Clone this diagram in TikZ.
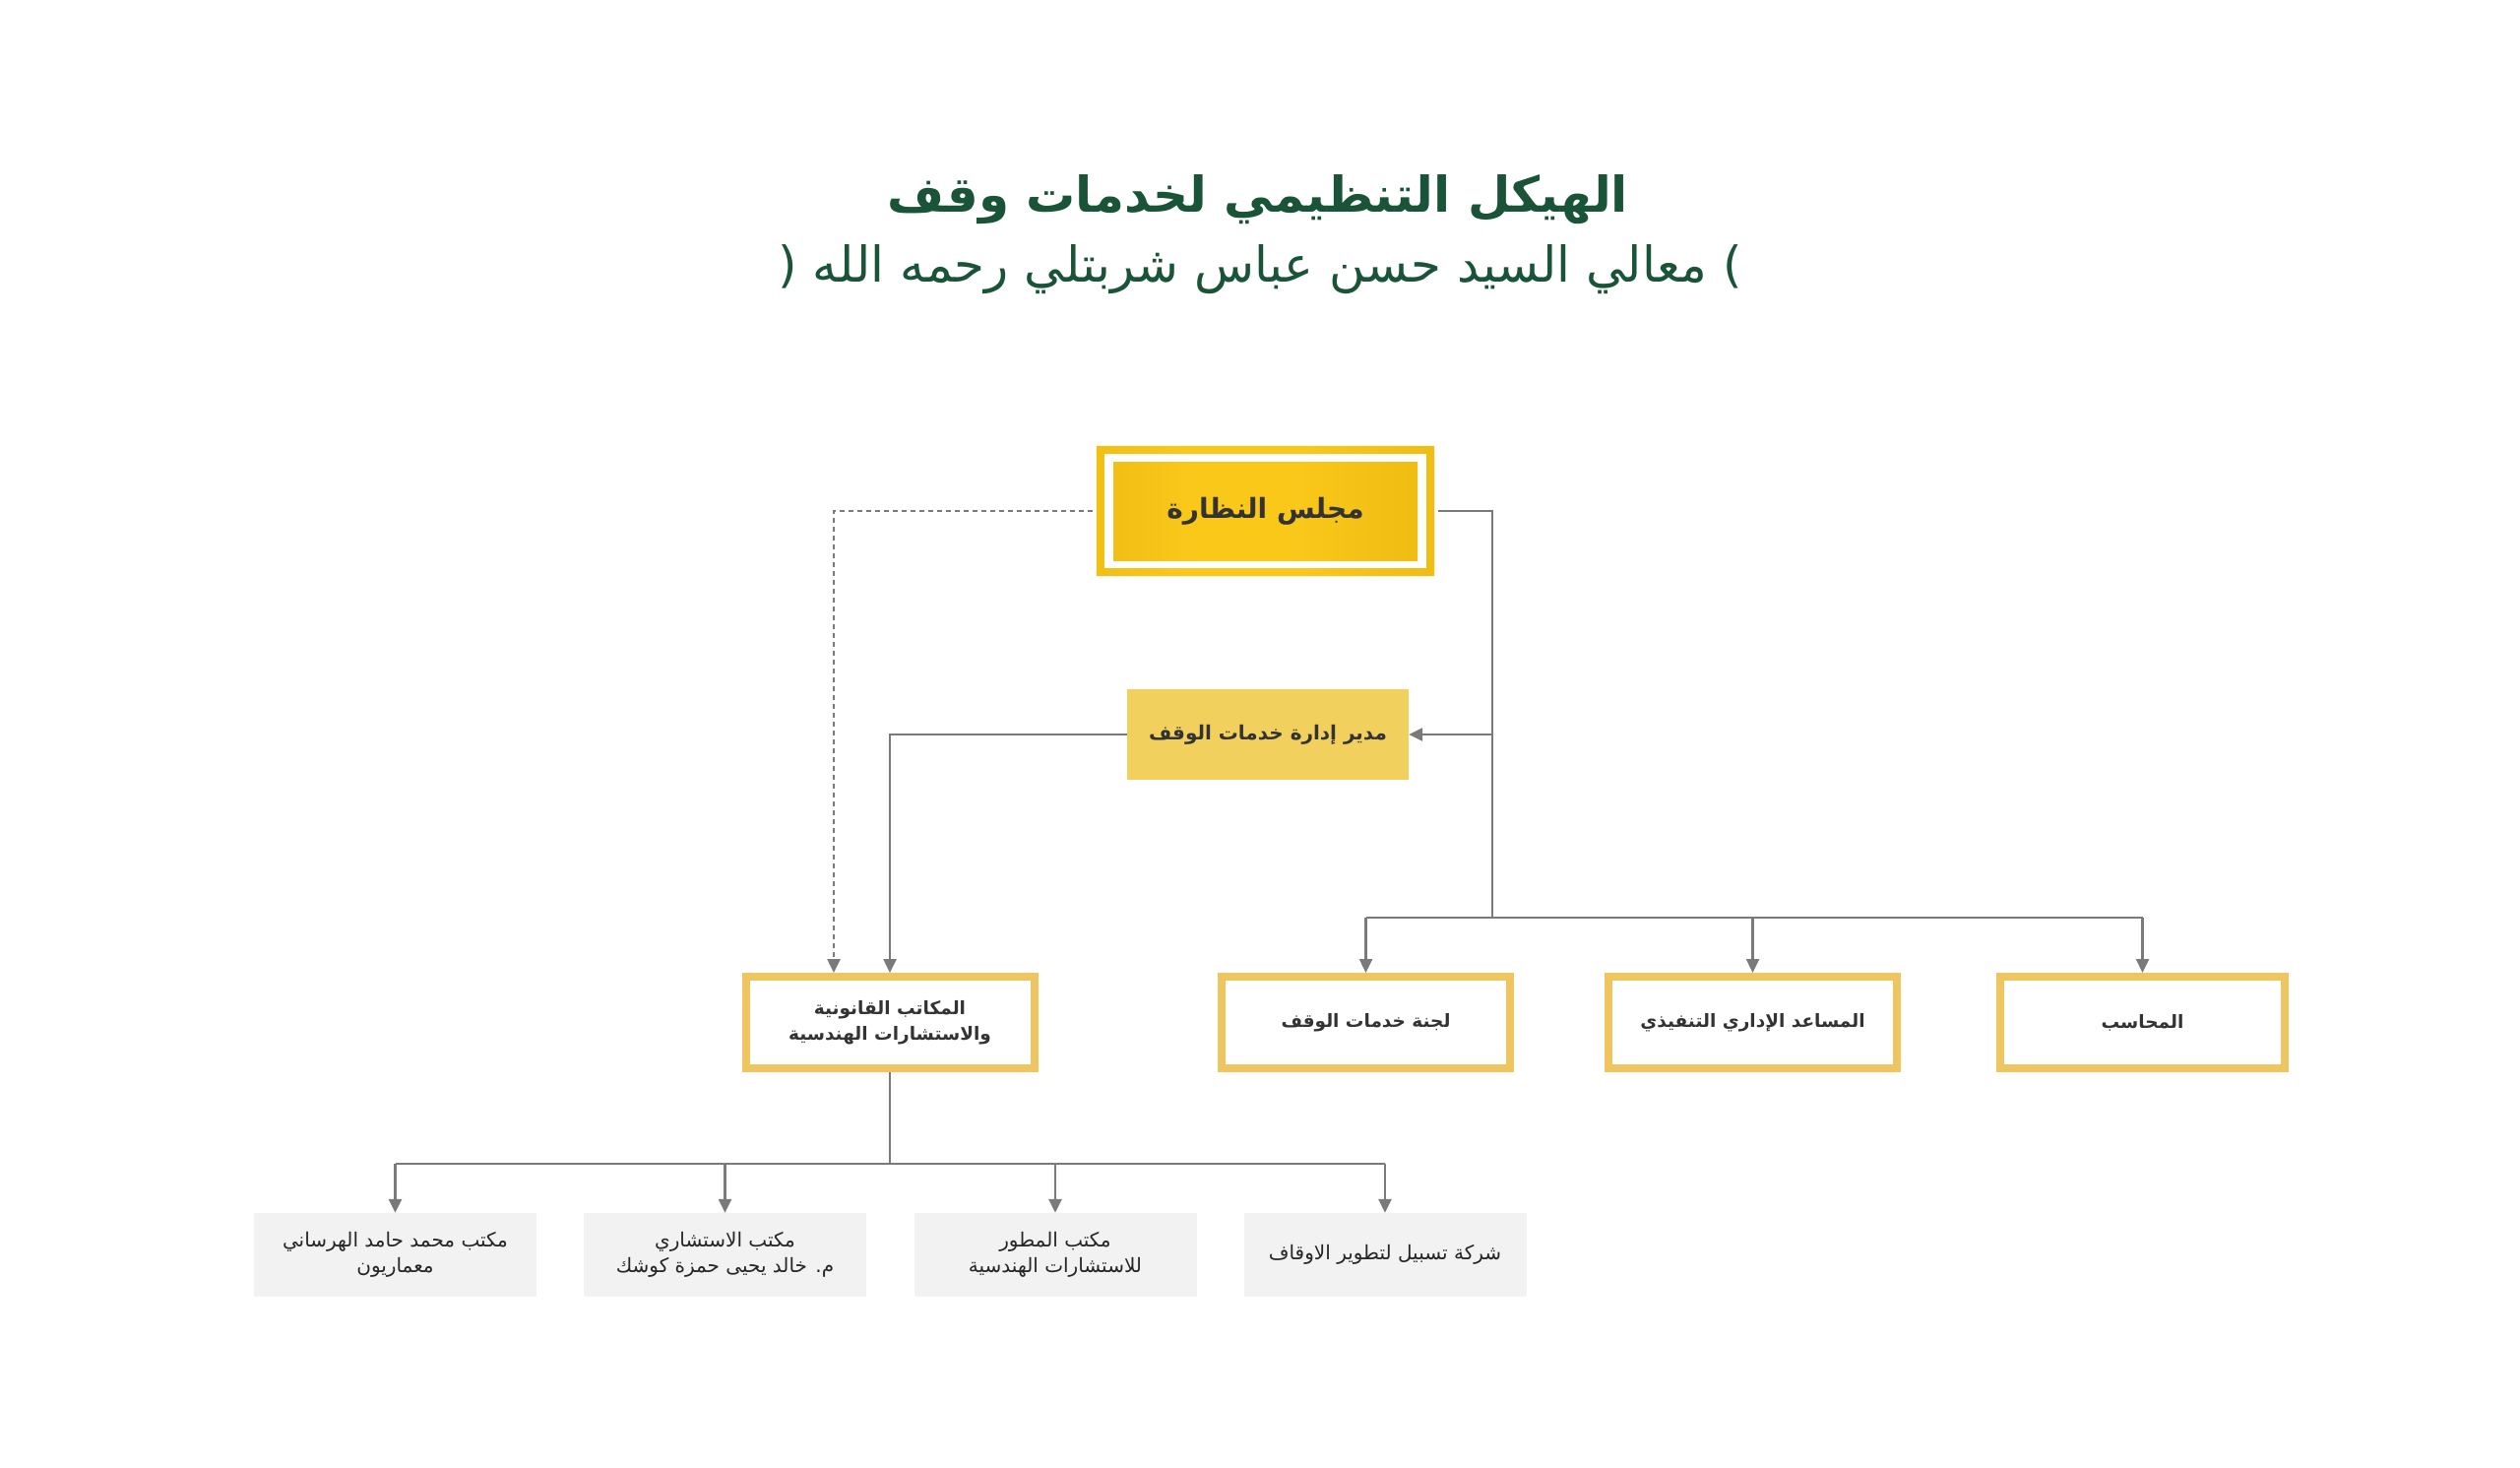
\documentclass[tikz,border=0pt]{standalone}
\usepackage{fontspec}
\setmainfont{DejaVu Sans}
\newfontfamily\ar[Script=Arabic]{DejaVu Sans}
\TeXXeTstate=1
\usetikzlibrary{arrows.meta}
\definecolor{titlegreen}{HTML}{1A5438}
\definecolor{goldA}{HTML}{E4AE0C}
\definecolor{goldB}{HTML}{F9C819}
\definecolor{mgrfill}{HTML}{F2D05E}
\definecolor{midgold}{HTML}{EFC55F}
\definecolor{lightbox}{HTML}{F2F2F3}
\definecolor{conngray}{HTML}{7A7A7A}
\definecolor{textdark}{HTML}{333333}
\pgfdeclarehorizontalshading{goldshade}{100bp}{color(0bp)=(goldA); color(38bp)=(goldB); color(55bp)=(goldB); color(100bp)=(goldA)}
\newcommand{\arline}[2][0pt]{\raisebox{#1}{\beginR #2\endR}}
\tikzset{
  conn/.style={draw=conngray, line width=2.5pt},
  arr/.style={conn, -{Triangle[length=14pt,width=13pt]}},
  dotconn/.style={arr, dash pattern=on 5pt off 4pt},
  midbox/.style={draw=midgold, line width=8pt, fill=white, minimum width=293pt, minimum height=93pt, align=center, text=textdark, font=\ar\bfseries\fontsize{18.5}{26}\selectfont},
  lowbox/.style={fill=lightbox, minimum width=287pt, minimum height=85pt, align=center, text=black!85, font=\ar\fontsize{20}{26}\selectfont},
}
\begin{document}
\begin{tikzpicture}[x=1pt,y=-1pt]
\useasboundingbox[fill=white] (0,0) rectangle (2560,1491);
% titles
\node[text=titlegreen, font=\ar\bfseries\fontsize{50}{60}\selectfont] (title) at (1278,203) {\beginR الهيكل التنظيمي لخدمات وقف\endR};
\node[text=titlegreen, font=\ar\fontsize{50}{60}\selectfont] (subtitle) at (1280,274) {( \beginR معالي السيد حسن عباس شربتلي رحمه الله\endR\ )};
% board
\node[shading=goldshade, minimum width=309pt, minimum height=100pt, text=textdark, font=\ar\bfseries\fontsize{28}{34}\selectfont] (board) at (1285.5,519) {\arline[-3pt]{مجلس النظارة}};
\shade[shading=goldshade, even odd rule] ([xshift=-17pt,yshift=16pt]board.north west) rectangle ([xshift=17pt,yshift=-16pt]board.south east) ([xshift=-9pt,yshift=8pt]board.north west) rectangle ([xshift=9pt,yshift=-8pt]board.south east);
% manager
\node[fill=mgrfill, minimum width=286pt, minimum height=92pt, text=textdark, font=\ar\bfseries\fontsize{20}{26}\selectfont] (mgr) at (1288,746) {\arline[-5pt]{مدير إدارة خدمات الوقف}};
% middle row
\node[midbox] (makatib) at (904,1038.5) {\arline[-4pt]{المكاتب القانونية}\\\arline[-4pt]{والاستشارات الهندسية}};
\node[midbox] (lajna) at (1387.5,1038.5) {\arline[-3pt]{لجنة خدمات الوقف}};
\node[midbox] (musaid) at (1780.5,1038.5) {\arline[-3pt]{المساعد الإداري التنفيذي}};
\node[midbox, minimum width=289pt] (muhasib) at (2176.5,1038.5) {\arline[-3pt]{المحاسب}};
% bottom row
\node[lowbox] (b1) at (401.5,1274.5) {\arline[-2pt]{مكتب محمد حامد الهرساني}\\\arline[-2pt]{معماريون}};
\node[lowbox] (b2) at (736.5,1274.5) {\arline[-2pt]{مكتب الاستشاري}\\\arline[-2pt]{م. خالد يحيى حمزة كوشك}};
\node[lowbox] (b3) at (1072,1274.5) {\arline[-2pt]{مكتب المطور}\\\arline[-2pt]{للاستشارات الهندسية}};
\node[lowbox] (b4) at (1407,1274.5) {\arline[-2pt]{شركة تسبيل لتطوير الاوقاف}};
% connectors
\coordinate (jr) at (1516,932);
\coordinate (jb) at (903,1182);
\draw[conn] ([xshift=21pt]board.east) -| (jr);
\draw[arr] (mgr.east -| jr) -- (mgr.east);
\draw[conn] (lajna.north |- jr) -- (muhasib.north |- jr);
\draw[arr] (lajna.north |- jr) -- (lajna.north);
\draw[arr] (musaid.north |- jr) -- (musaid.north);
\draw[arr] (muhasib.north |- jr) -- (muhasib.north);
\draw[arr] (mgr.west) -| (makatib.north);
\draw[dotconn] ([xshift=-21pt]board.west) -| ([xshift=-57pt]makatib.north);
\draw[conn] (makatib.south) -- (makatib.south |- jb);
\draw[conn] (b1.north |- jb) -- (b4.north |- jb);
\draw[arr] (b1.north |- jb) -- (b1.north);
\draw[arr] (b2.north |- jb) -- (b2.north);
\draw[arr] (b3.north |- jb) -- (b3.north);
\draw[arr] (b4.north |- jb) -- (b4.north);
\end{tikzpicture}
\end{document}
